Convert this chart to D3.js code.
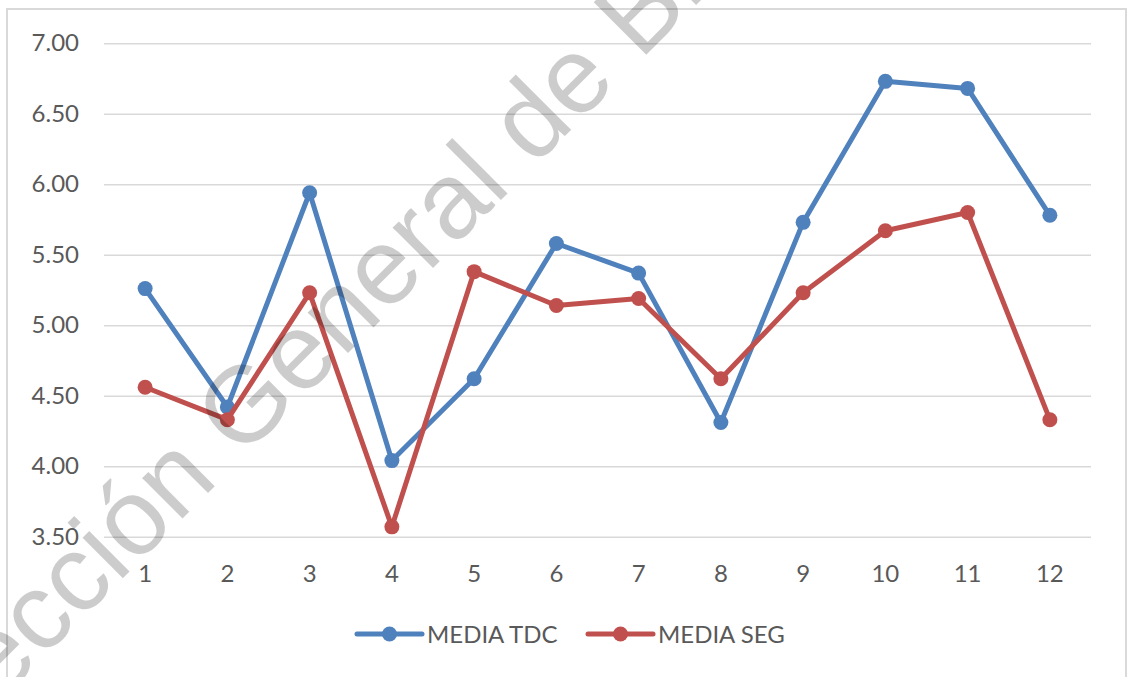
<!DOCTYPE html>
<html>
<head>
<meta charset="utf-8">
<script src="https://cdn.jsdelivr.net/npm/d3@7"></script>
<style>
  html, body { margin: 0; padding: 0; background: #fff; }
  svg { display: block; }
</style>
</head>
<body>
<svg id="chart" width="1133" height="677"></svg>
<script>
// Monthly averages for the two indicators
const categories = [1, 2, 3, 4, 5, 6, 7, 8, 9, 10, 11, 12];
const mediaTDC = [5.26, 4.42, 5.94, 4.04, 4.62, 5.58, 5.37, 4.31, 5.73, 6.73, 6.68, 5.78];
const mediaSEG = [4.56, 4.33, 5.23, 3.57, 5.38, 5.14, 5.19, 4.62, 5.23, 5.67, 5.80, 4.33];
const yTicks = [3.5, 4.0, 4.5, 5.0, 5.5, 6.0, 6.5, 7.0];
const seriesNames = ["MEDIA TDC", "MEDIA SEG"];
const watermarkText = "Dirección General de Bibliotecas";

const series = [
  { name: seriesNames[0], values: mediaTDC, color: "#4F81BD" },
  { name: seriesNames[1], values: mediaSEG, color: "#C0504D" }
];

const svg = d3.select("#chart");
const plot = { left: 104, right: 1091, top: 43.3, bottom: 536.7 };
const font = "Lato, 'Open Sans', sans-serif";
const textColor = "#595959";

// outer chart frame
svg.append("rect")
  .attr("x", 7).attr("y", 9)
  .attr("width", 1119).attr("height", 700)
  .attr("fill", "#fff")
  .attr("stroke", "#D9D9D9").attr("stroke-width", 2);

const x = d3.scaleBand().domain(categories).range([plot.left, plot.right]);
const cx = d => x(d) + x.bandwidth() / 2;
const y = d3.scaleLinear().domain([3.5, 7.0]).range([plot.bottom, plot.top]);

// horizontal gridlines
const yAxis = d3.axisLeft(y)
  .tickValues(yTicks)
  .tickSize(-(plot.right - plot.left))
  .tickPadding(25)
  .tickFormat(d3.format(".2f"));

const gy = svg.append("g")
  .attr("transform", `translate(${plot.left},0)`)
  .call(yAxis);
gy.select(".domain").remove();
gy.selectAll(".tick line").attr("stroke", "#D9D9D9").attr("stroke-width", 1.6);
gy.selectAll(".tick text")
  .attr("fill", textColor)
  .style("font-family", font)
  .style("font-size", "24px");

// category labels
const xAxis = d3.axisBottom(x).tickSize(0).tickPadding(0);
const gx = svg.append("g")
  .attr("transform", `translate(0,${plot.bottom})`)
  .call(xAxis);
gx.select(".domain").remove();
gx.selectAll(".tick text")
  .attr("y", 45)
  .attr("dy", 0)
  .attr("fill", textColor)
  .style("font-family", font)
  .style("font-size", "24px");

// lines with circular markers
const line = d3.line()
  .x((d, i) => cx(categories[i]))
  .y(d => y(d));

series.forEach(s => {
  const g = svg.append("g");
  g.append("path")
    .datum(s.values)
    .attr("d", line)
    .attr("fill", "none")
    .attr("stroke", s.color)
    .attr("stroke-width", 5)
    .attr("stroke-linejoin", "round")
    .attr("stroke-linecap", "round");
  g.selectAll("circle")
    .data(s.values)
    .join("circle")
    .attr("cx", (d, i) => cx(categories[i]))
    .attr("cy", d => y(d))
    .attr("r", 7.5)
    .attr("fill", s.color);
});

// legend
const legendY = 634;
const legendItems = [
  { s: series[0], x0: 357 },
  { s: series[1], x0: 588 }
];
legendItems.forEach(({ s, x0 }) => {
  const g = svg.append("g");
  g.append("line")
    .attr("x1", x0).attr("x2", x0 + 65)
    .attr("y1", legendY).attr("y2", legendY)
    .attr("stroke", s.color).attr("stroke-width", 5)
    .attr("stroke-linecap", "round");
  g.append("circle")
    .attr("cx", x0 + 32.5).attr("cy", legendY).attr("r", 7.5)
    .attr("fill", s.color);
  g.append("text")
    .attr("x", x0 + 70).attr("y", legendY + 9)
    .attr("fill", textColor)
    .style("font-family", font)
    .style("font-size", "24px")
    .text(s.name);
});

// diagonal watermark drawn over the chart
const wmAngle = -45;
const wm = svg.append("text")
  .attr("fill", "#000")
  .attr("fill-opacity", 0.2)
  .style("font-family", "'Liberation Sans', Arial, sans-serif")
  .style("font-size", "108px")
  .text(watermarkText);
// anchor the "B" of the last word at its baseline position
const prefixLen = wm.node().getSubStringLength(0, watermarkText.indexOf("B"));
const bx = 640, by = 61;
const rad = wmAngle * Math.PI / 180;
const ox = bx - prefixLen * Math.cos(rad);
const oy = by - prefixLen * Math.sin(rad);
wm.attr("transform", `translate(${ox},${oy}) rotate(${wmAngle})`);
</script>
</body>
</html>
